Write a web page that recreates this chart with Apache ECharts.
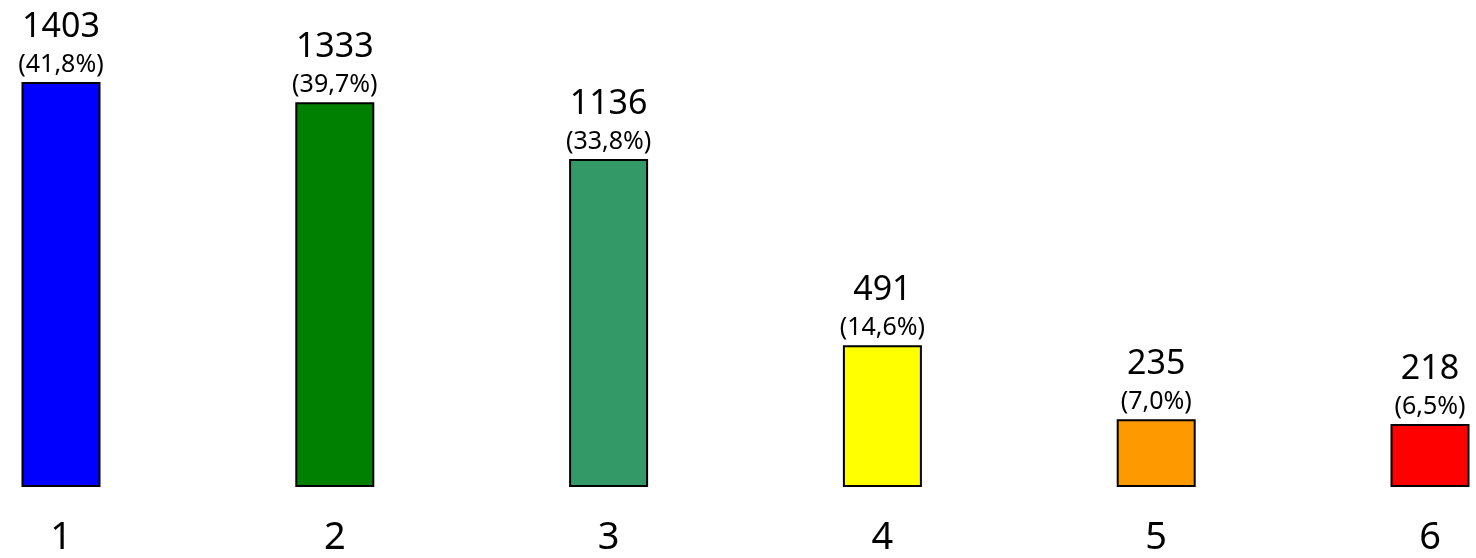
<!DOCTYPE html>
<html>
<head>
<meta charset="utf-8">
<script src="https://cdn.jsdelivr.net/npm/echarts@6/dist/echarts.min.js"></script>
<style>
  html, body { margin: 0; padding: 0; background: #fff; }
  #main { width: 1476px; height: 558px; }
</style>
</head>
<body>
<div id="main"></div>
<script>
var categories = ['1', '2', '3', '4', '5', '6'];
var values = [1403, 1333, 1136, 491, 235, 218];
var percents = ['41,8%', '39,7%', '33,8%', '14,6%', '7,0%', '6,5%'];
var colors = ['#0000ff', '#008000', '#339966', '#ffff00', '#ff9900', '#ff0000'];

var chartDom = document.getElementById('main');
var myChart = echarts.init(chartDom);
var font = 'Noto Sans';

var option = {
  animation: false,
  grid: { left: 61, right: 46, top: 54, bottom: 71 },
  xAxis: {
    type: 'category',
    data: categories,
    boundaryGap: false,
    axisLine: { show: false },
    axisTick: { show: false },
    axisLabel: { color: '#000', fontSize: 38, fontFamily: font, margin: 32 }
  },
  yAxis: { type: 'value', min: 0, max: 1500, show: false, splitLine: { show: false } },
  series: [{
    type: 'bar',
    barWidth: 79,
    data: values.map(function (v, i) {
      return { value: v, itemStyle: { color: colors[i] } };
    }),
    itemStyle: { borderColor: '#000', borderWidth: 2 },
    label: {
      show: true,
      position: 'top',
      distance: 2,
      color: '#000',
      fontFamily: font,
      formatter: function (p) {
        return '{v|' + p.value + '}\n{p|(' + percents[p.dataIndex] + ')}';
      },
      rich: {
        v: { fontSize: 34, lineHeight: 46, fontFamily: font, color: '#000' },
        p: { fontSize: 25, lineHeight: 30, fontFamily: font, color: '#000' }
      }
    }
  }]
};

myChart.setOption(option);
</script>
</body>
</html>
